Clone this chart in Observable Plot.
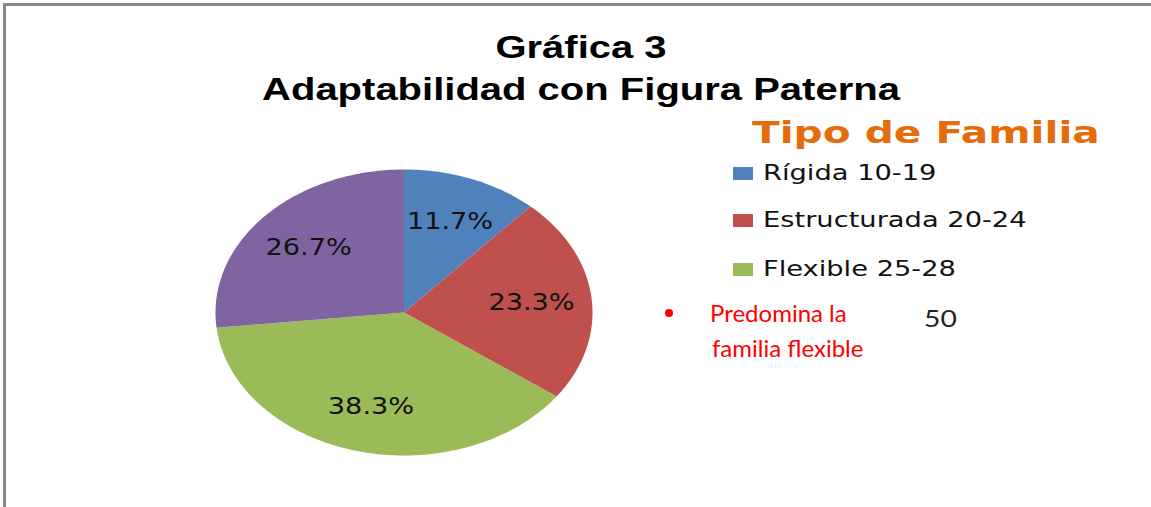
<!DOCTYPE html>
<html>
<head>
<meta charset="utf-8">
<script src="https://cdn.jsdelivr.net/npm/d3@7"></script>
<script src="https://cdn.jsdelivr.net/npm/@observablehq/plot@0.6"></script>
<style>
  body { margin: 0; background: #fff; }
  #wrap { position: relative; width: 1151px; height: 507px; overflow: hidden; background: #fff; }
  .abs { position: absolute; white-space: nowrap; line-height: 1; }
  .title { left: 0; width: 1162px; text-align: center; font-family: "Liberation Sans", Arial, sans-serif; font-weight: bold; font-size: 32px; color: #000; transform: scaleX(1.25); transform-origin: 581px 0; }
  .ltitle { font-family: "DejaVu Sans", Verdana, sans-serif; font-weight: bold; font-size: 31px; color: #E46C0A; transform: scaleX(1.31); transform-origin: 0 0; }
  .litem { font-family: "DejaVu Sans", Verdana, sans-serif; font-size: 22px; color: #111; transform: scaleX(1.24); transform-origin: 0 0; }
  .sw { position: absolute; width: 20px; height: 13px; }
  .note { font-family: Lato, "Open Sans", sans-serif; font-size: 24px; color: #FF0000; }
  .num { font-family: Lato, "Open Sans", sans-serif; font-size: 24px; color: #222; transform: scaleX(1.18); transform-origin: 0 0; }
</style>
</head>
<body>
<div id="wrap">
  <div id="chart" style="position:absolute;left:0;top:0;"></div>
  <div style="position:absolute;left:3px;top:3px;width:1148px;height:3px;background:#8a8a8a;"></div>
  <div style="position:absolute;left:3px;top:3px;width:3px;height:504px;background:#8a8a8a;"></div>
  <div id="title1" class="abs title" style="top:31px;"></div>
  <div id="title2" class="abs title" style="top:73px;"></div>
  <div id="legend"></div>
  <div id="notes"></div>
</div>
<script>
// ---- data ----
const titleLines = ["Gráfica 3", "Adaptabilidad con Figura Paterna"];
const legendTitle = "Tipo de Familia";
const categories = ["Rígida 10-19", "Estructurada 20-24", "Flexible 25-28", "Caótica 29-40"];
const percents = [11.7, 23.3, 38.3, 26.7];
const colors = ["#4F81BD", "#C0504D", "#9BBB59", "#8064A2"];
const legendShown = 3; // only the first three entries are visible in the picture
const noteLines = ["Predomina la", "familia flexible"];
const noteNumber = "50";

// ---- titles ----
document.getElementById("title1").textContent = titleLines[0];
document.getElementById("title2").textContent = titleLines[1];

// ---- pie geometry (derived from the data) ----
const arcs = d3.pie().sort(null).value(d => d.value)(categories.map((c, i) => ({cat: c, value: percents[i]})));
const pts = [];
arcs.forEach(a => {
  const n = Math.max(4, Math.ceil((a.endAngle - a.startAngle) / (Math.PI / 180)));
  pts.push({cat: a.data.cat, x: 0, y: 0});
  for (let k = 0; k <= n; k++) {
    const t = a.startAngle + (a.endAngle - a.startAngle) * k / n;
    pts.push({cat: a.data.cat, x: Math.sin(t), y: Math.cos(t)});
  }
  pts.push({cat: a.data.cat, x: 0, y: 0});
});
const labelR = 0.68;
const labels = arcs.map(a => {
  const m = (a.startAngle + a.endAngle) / 2;
  return {x: labelR * Math.sin(m), y: labelR * Math.cos(m), text: a.data.value.toFixed(1) + "%"};
});

const chart = Plot.plot({
  width: 1151,
  height: 507,
  margin: 0,
  style: {background: "transparent", overflow: "visible"},
  x: {domain: [-1, 1], range: [215, 592], axis: null},
  y: {domain: [-1, 1], range: [455, 169], axis: null},
  color: {domain: categories, range: colors},
  marks: [
    Plot.line(pts, {x: "x", y: "y", z: "cat", fill: "cat", stroke: "none", curve: "linear"}),
    Plot.text(labels, {
      x: "x", y: "y", text: "text",
      fontSize: 23, fontFamily: "DejaVu Sans, Verdana, sans-serif", fill: "#111",
      textAnchor: "middle", lineAnchor: "middle",
      render(index, scales, values, dims, context, next) {
        const g = next(index, scales, values, dims, context);
        d3.select(g).selectAll("text").attr("transform", function() {
          return this.getAttribute("transform") + " scale(1.18,1)";
        });
        return g;
      }
    })
  ]
});
document.getElementById("chart").appendChild(chart);

// ---- legend ----
const legend = document.getElementById("legend");
const lt = document.createElement("div");
lt.className = "abs ltitle";
lt.style.left = "752px"; lt.style.top = "117px";
lt.textContent = legendTitle;
legend.appendChild(lt);
const rowTops = [162, 209, 258];
const swTops = [167, 214, 263];
categories.slice(0, legendShown).forEach((c, i) => {
  const sw = document.createElement("div");
  sw.className = "sw";
  sw.style.left = "733px"; sw.style.top = swTops[i] + "px";
  sw.style.background = colors[i];
  legend.appendChild(sw);
  const t = document.createElement("div");
  t.className = "abs litem";
  t.style.left = "763px"; t.style.top = rowTops[i] + "px";
  t.textContent = c;
  legend.appendChild(t);
});

// ---- note ----
const notes = document.getElementById("notes");
const dot = document.createElement("div");
dot.style.cssText = "position:absolute;left:665px;top:309px;width:8px;height:8px;border-radius:50%;background:#FF0000;";
notes.appendChild(dot);
const n1 = document.createElement("div");
n1.className = "abs note"; n1.style.left = "710px"; n1.style.top = "301px"; n1.textContent = noteLines[0];
notes.appendChild(n1);
const n2 = document.createElement("div");
n2.className = "abs note"; n2.style.left = "712px"; n2.style.top = "336px"; n2.textContent = noteLines[1];
notes.appendChild(n2);
const n3 = document.createElement("div");
n3.className = "abs num"; n3.style.left = "924px"; n3.style.top = "306px"; n3.textContent = noteNumber;
notes.appendChild(n3);
</script>
</body>
</html>
